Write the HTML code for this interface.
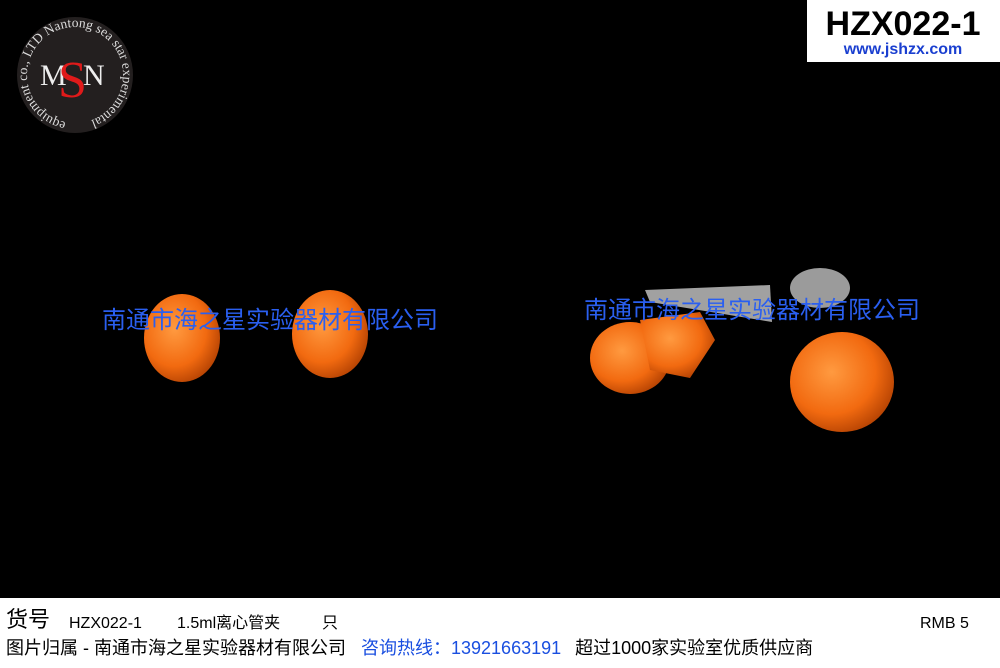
<!DOCTYPE html>
<html><head><meta charset="utf-8"><style>
body{margin:0;width:1000px;height:668px;overflow:hidden;background:#000;position:relative;font-family:"Liberation Sans","Noto Sans CJK SC",sans-serif}
.ft{position:absolute;left:0;top:598px;width:1000px;height:70px;background:#fff}
.t{position:absolute;white-space:nowrap;color:#000;line-height:20px;height:20px}
</style></head><body>
<svg width="1000" height="598" style="position:absolute;left:0;top:0">
<defs>
<path id="arc" d="M75,123 A48,48 0 1,1 75.1,123"/>
<radialGradient id="og" cx="40%" cy="40%" r="70%"><stop offset="0" stop-color="#ff9a40"/><stop offset="0.6" stop-color="#f26a10"/><stop offset="1" stop-color="#a83a00"/></radialGradient>
</defs>
<circle cx="75" cy="75" r="58" fill="#231f1f"/>
<text font-family="Liberation Serif,serif" font-size="13.5" fill="#ddd"><textPath href="#arc" startOffset="3%">equipment co., LTD Nantong sea star experimental</textPath></text>
<text x="40" y="85" font-family="Liberation Serif,serif" font-size="30" fill="#eee">M</text>
<text x="83" y="85" font-family="Liberation Serif,serif" font-size="30" fill="#eee">N</text>
<text x="58" y="97" font-family="Liberation Serif,serif" font-size="52" fill="#e01a1a">S</text>
<rect x="807" y="0" width="193" height="62" fill="#fff"/>
<text x="903" y="35" text-anchor="middle" font-size="34" font-weight="bold" fill="#000">HZX022-1</text>
<text x="903" y="54" text-anchor="middle" font-size="16" font-weight="bold" fill="#1a3fd0">www.jshzx.com</text>
<ellipse cx="182" cy="338" rx="38" ry="44" fill="url(#og)"/>
<ellipse cx="330" cy="334" rx="38" ry="44" fill="url(#og)"/>
<path d="M645,290 L770,285 L772,322 L650,302 Z" fill="#c9c9c9" opacity="0.8"/>
<ellipse cx="820" cy="288" rx="30" ry="20" fill="#ddd" opacity="0.7"/>
<ellipse cx="630" cy="358" rx="40" ry="36" fill="url(#og)"/>
<path d="M640,320 L700,312 L715,340 L690,378 L650,370 Z" fill="url(#og)"/>
<ellipse cx="842" cy="382" rx="52" ry="50" fill="url(#og)"/>
<text x="270" y="328" text-anchor="middle" font-family="Liberation Sans,Noto Sans CJK SC,sans-serif" font-size="24" fill="#2a5ff0">南通市海之星实验器材有限公司</text>
<text x="752" y="318" text-anchor="middle" font-family="Liberation Sans,Noto Sans CJK SC,sans-serif" font-size="24" fill="#2a5ff0">南通市海之星实验器材有限公司</text>
</svg>
<div class="ft"></div>
<div class="t" style="left:6px;top:610px;font-size:22px">货号</div>
<div class="t" style="left:69px;top:614px;font-size:16px">HZX022-1</div>
<div class="t" style="left:177px;top:614px;font-size:16px">1.5ml离心管夹</div>
<div class="t" style="left:322px;top:614px;font-size:16px">只</div>
<div class="t" style="left:920px;top:614px;font-size:16px">RMB 5</div>
<div class="t" style="left:6px;top:638px;font-size:18px">图片归属 - 南通市海之星实验器材有限公司 <span style="color:#1a4fe0;margin-left:10px">咨询热线：13921663191</span><span style="margin-left:14px">超过1000家实验室优质供应商</span></div>
</body></html>
